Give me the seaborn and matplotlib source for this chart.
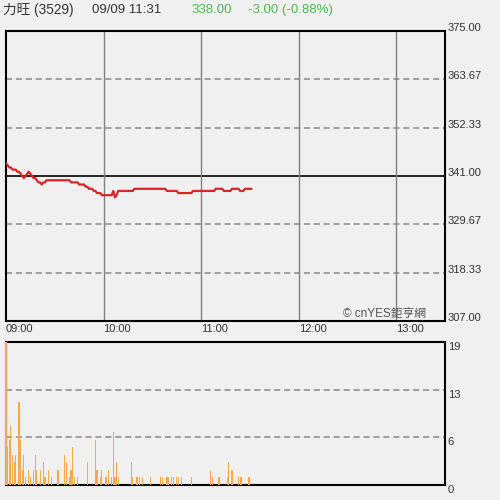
"""
Intraday-Chart 力旺 (3529): Kurs oben, Volumen unten.
"""

import matplotlib
matplotlib.use("Agg")
import matplotlib.pyplot as plt
import numpy as np
import pandas as pd
import seaborn as sns

# Kurs je Minute ab 09:00
PRICE = [
    344.0, 343.5, 343.0, 343.0, 342.5, 342.5, 342.5, 342.0, 342.0, 341.5,
    341.0, 340.5, 341.0, 341.5, 342.0, 341.5, 341.0, 340.5, 340.5, 340.0,
    339.5, 339.5, 339.0, 339.5, 339.5, 340.0, 340.0, 340.0, 340.0, 340.0,
    340.0, 340.0, 340.0, 340.0, 340.0, 340.0, 340.0, 340.0, 340.0, 340.0,
    339.5, 339.5, 339.5, 339.5, 339.5, 339.0, 339.0, 339.0, 339.0, 338.5,
    338.5, 338.0, 338.0, 338.0, 337.5, 337.5, 337.0, 337.0, 337.0, 336.5,
    336.5, 336.5, 336.5, 336.5, 336.5, 336.5, 337.5, 336.0, 336.5, 337.5,
    337.5, 337.5, 337.5, 337.5, 337.5, 337.5, 337.5, 337.5, 337.5, 338.0,
    338.0, 338.0, 338.0, 338.0, 338.0, 338.0, 338.0, 338.0, 338.0, 338.0,
    338.0, 338.0, 338.0, 338.0, 338.0, 338.0, 338.0, 338.0, 338.0, 337.5,
    337.5, 337.5, 337.5, 337.5, 337.5, 337.5, 337.0, 337.0, 337.0, 337.0,
    337.0, 337.0, 337.0, 337.0, 337.0, 337.5, 337.5, 337.5, 337.5, 337.5,
    337.5, 337.5, 337.5, 337.5, 337.5, 337.5, 337.5, 337.5, 337.5, 338.0,
    338.0, 338.0, 338.0, 338.0, 337.5, 337.5, 337.5, 337.5, 337.5, 338.0,
    338.0, 338.0, 338.0, 338.0, 337.5, 337.5, 337.5, 338.0, 338.0, 338.0,
    338.0, 338.0,
]
PREV_CLOSE = 341.0

# Volumen: Minute ab 09:00 und Menge
VOL_MINUTE = [
    0, 1, 2, 3, 4, 5, 6, 8, 9, 10, 11, 12, 14, 15, 17, 18, 19, 21, 23, 24,
    26, 28, 32, 36, 37, 39, 40, 41, 42, 44, 50, 55, 56, 58, 59, 61, 62, 63,
    65, 66, 67, 68, 69, 77, 78, 80, 81, 82, 84, 89, 95, 96, 99, 100, 102,
    103, 105, 106, 108, 114, 126, 127, 131, 136, 137, 139, 143, 144, 145,
    149, 150,
]
VOL_VALUE = [
    19, 5, 6, 8, 4, 3, 4, 11, 6, 2, 4, 1, 2, 1, 2, 4, 2, 2, 3, 1,
    2, 1, 2, 4, 3, 1, 2, 5, 1, 1, 3, 6, 2, 1, 2, 1, 1, 2,
    1, 7, 1, 3, 1, 3, 1, 1, 1, 1, 1, 1, 1, 1, 1, 1, 1,
    1, 1, 1, 1, 1, 2, 1, 1, 1, 3, 2, 1, 1, 1,
    1, 1,
]

PRICE_TICKS = [307.00, 318.33, 329.67, 341.00, 352.33, 363.67, 375.00]
VOL_TICKS = [0, 6.33, 12.67, 19]
VOL_LABELS = ["0", "6", "13", "19"]
TIME_TICKS = [0, 60, 120, 180, 240]
TIME_LABELS = ["09:00", "10:00", "11:00", "12:00", "13:00"]

BG = "#f0f0f0"
RED = "#d62626"
ORANGE = "#f5a94a"
GREEN = "#4cbb4c"
TEXT = "#333333"

sns.set_theme(style="white")
plt.rcParams["font.family"] = ["Liberation Sans", "Noto Sans CJK TC", "DejaVu Sans"]

fig = plt.figure(figsize=(5, 5), dpi=100, facecolor=BG)
ax = fig.add_axes([6 / 500, 1 - 321 / 500, 439 / 500, 290 / 500], facecolor=BG)
axv = fig.add_axes([6 / 500, 1 - 485 / 500, 439 / 500, 143 / 500], facecolor=BG)

df = pd.DataFrame({"minute": np.arange(len(PRICE)), "price": PRICE})

# Gitter oben
for v in PRICE_TICKS[1:-1]:
    if v == PREV_CLOSE:
        ax.axhline(v, color="black", linewidth=1.2, zorder=1)
    else:
        ax.axhline(v, color="#888888", linewidth=1.1, linestyle=(0, (4, 2.5)), zorder=1)
for t in TIME_TICKS[1:]:
    ax.axvline(t, color="#808080", linewidth=1.0, zorder=1)

sns.lineplot(data=df, x="minute", y="price", ax=ax, color=RED, linewidth=1.6, zorder=3)

ax.set_xlim(0, 270)
ax.set_ylim(PRICE_TICKS[0], PRICE_TICKS[-1])
ax.set_xlabel("")
ax.set_ylabel("")
ax.set_xticks(TIME_TICKS)
ax.set_xticklabels(TIME_LABELS, ha="left", fontsize=8, color=TEXT)
ax.yaxis.tick_right()
ax.set_yticks(PRICE_TICKS)
ax.set_yticklabels([f"{v:.2f}" for v in PRICE_TICKS], fontsize=8, color=TEXT,
                   va="baseline")
ax.tick_params(axis="both", length=0, pad=2)
for s in ax.spines.values():
    s.set_color("black")
    s.set_linewidth(1.5)
ax.text(0.957, 0.025, "© cnYES鉅亨網", transform=ax.transAxes, ha="right",
        va="center", fontsize=8.5, color="#555555")

# Volumen unten
for v in VOL_TICKS[1:-1]:
    axv.axhline(v, color="#888888", linewidth=1.1, linestyle=(0, (4, 2.5)), zorder=1)
axv.bar(VOL_MINUTE, VOL_VALUE, width=0.7, color=ORANGE, linewidth=0, zorder=3,
        clip_on=False)
axv.set_xlim(0, 270)
axv.set_ylim(0, 19)
axv.set_xticks([])
axv.yaxis.tick_right()
axv.set_yticks(VOL_TICKS)
axv.set_yticklabels(VOL_LABELS, fontsize=8, color=TEXT, va="top")
axv.tick_params(axis="y", length=0, pad=2)
for s in axv.spines.values():
    s.set_color("black")
    s.set_linewidth(1.5)

# Kopfzeile
y_head = 1 - 10 / 500
fig.text(3 / 500, y_head, "力旺 (3529)", fontsize=9.8, color=TEXT, va="center")
fig.text(92 / 500, y_head, "09/09 11:31", fontsize=9.5, color=TEXT, va="center")
fig.text(191 / 500, y_head, "338.00", fontsize=9.5, color=GREEN, va="center")
fig.text(248 / 500, y_head, "-3.00 (-0.88%)", fontsize=9.5, color=GREEN, va="center")

fig.savefig("out.png", dpi=100, facecolor=BG)
